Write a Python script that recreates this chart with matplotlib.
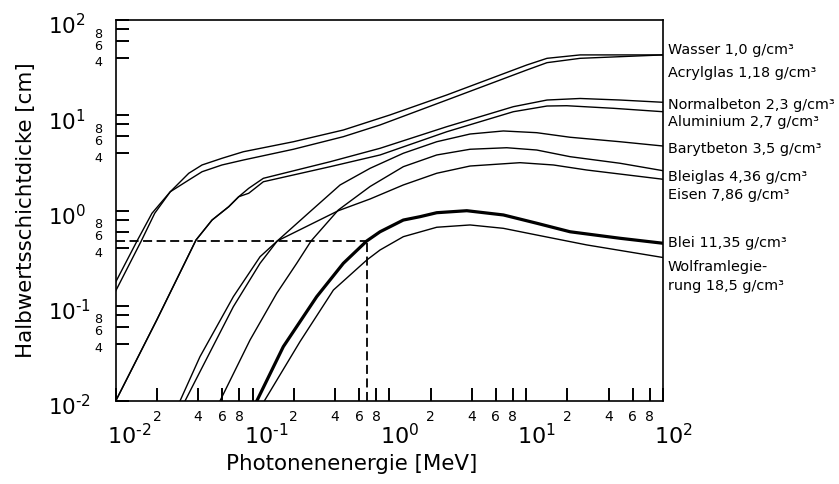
import matplotlib
matplotlib.use("Agg")
import matplotlib.pyplot as plt
import matplotlib.transforms as mtransforms
from matplotlib.ticker import FixedLocator, FixedFormatter

plt.rcParams['font.family'] = ['DejaVu Sans']
plt.rcParams['mathtext.fontset'] = 'dejavusans'

# ---------------- data (photon energy in MeV, half-value layer in cm) ----------------
wasser_E = [0.01, 0.01538, 0.01928, 0.02506, 0.0342, 0.04276, 0.0598, 0.0857, 0.199, 0.461,
            1.01, 2.63, 10.1, 14.2, 24.8, 100]
wasser_H = [0.143, 0.479, 0.935, 1.574, 2.460, 3.006, 3.532, 4.140, 5.272, 7.0,
            10.07, 16.33, 33.7, 39.6, 43.0, 43.0]

acryl_E = [0.01, 0.01432, 0.01841, 0.02506, 0.0342, 0.04276, 0.0598, 0.0857, 0.199, 0.461,
           0.855, 2.63, 10.1, 14.2, 24.8, 100]
acryl_H = [0.1774, 0.479, 0.935, 1.574, 2.089, 2.553, 3.006, 3.388, 4.395, 5.957,
           7.907, 14.45, 29.85, 35.65, 39.6, 43.0]

normalbeton_E = [0.01, 0.01995, 0.03864, 0.0506, 0.0670, 0.0793, 0.0938, 0.120, 0.369, 0.855,
                 2.63, 8.054, 14.2, 24.8, 48.5, 100]
normalbeton_H = [0.01, 0.0708, 0.490, 0.794, 1.096, 1.396, 1.710, 2.178, 3.251, 4.498,
                 7.586, 12.30, 14.45, 15.0, 14.45, 13.68]

aluminium_E = [0.01, 0.01995, 0.03864, 0.0506, 0.0670, 0.0793, 0.0938, 0.120, 0.369, 0.855,
               2.63, 8.054, 14.2, 19.8, 43.4, 100]
aluminium_H = [0.01, 0.0708, 0.490, 0.794, 1.096, 1.396, 1.517, 2.004, 2.884, 3.828,
               6.714, 10.89, 12.50, 12.59, 11.83, 10.89]

barytbeton_E = [0.0321, 0.0413, 0.0724, 0.1135, 0.1517, 0.263, 0.4365, 0.723, 1.265, 2.220,
                3.890, 6.81, 11.94, 20.94, 48.5, 100]
barytbeton_H = [0.01, 0.0203, 0.0977, 0.279, 0.479, 0.971, 1.854, 2.773, 3.990, 5.272,
                6.353, 6.839, 6.561, 5.875, 5.272, 4.753]

bleiglas_E = [0.0578, 0.0959, 0.1503, 0.2104, 0.268, 0.4236, 0.723, 1.265, 2.220, 3.890,
              7.21, 11.94, 20.94, 48.5, 100]
bleiglas_H = [0.01, 0.0437, 0.1352, 0.279, 0.479, 1.012, 1.786, 2.884, 3.828, 4.395,
              4.560, 4.315, 3.673, 3.133, 2.618]

eisen_E = [0.0295, 0.0413, 0.0724, 0.1135, 0.1517, 0.4236, 0.723, 1.265, 2.220, 3.890,
           9.02, 15.81, 27.73, 100]
eisen_H = [0.01, 0.0292, 0.1245, 0.327, 0.479, 0.995, 1.321, 1.854, 2.460, 2.931,
           3.177, 3.006, 2.661, 2.128]

blei_E = [0.1074, 0.1679, 0.2944, 0.461, 0.684, 0.855, 1.265, 1.675, 2.220, 3.68,
          6.81, 11.94, 20.94, 48.5, 100]
blei_H = [0.01, 0.0372, 0.1245, 0.279, 0.479, 0.598, 0.794, 0.861, 0.948, 0.995,
          0.898, 0.735, 0.598, 0.511, 0.453]

wolfram_E = [0.1219, 0.2223, 0.390, 0.684, 0.855, 1.265, 2.220, 3.890, 6.81, 11.94, 27.73, 100]
wolfram_H = [0.01, 0.0420, 0.1462, 0.302, 0.385, 0.531, 0.667, 0.705, 0.650, 0.553, 0.435, 0.321]

# reading example (dashed): lead at 0.68 MeV
ref_E = 0.684
ref_H = 0.479

material_labels = ["Wasser 1,0 g/cm³", "Acrylglas 1,18 g/cm³", "Normalbeton 2,3 g/cm³",
                   "Aluminium 2,7 g/cm³", "Barytbeton 3,5 g/cm³", "Bleiglas 4,36 g/cm³",
                   "Eisen 7,86 g/cm³", "Blei 11,35 g/cm³", "Wolframlegie-",
                   "rung 18,5 g/cm³"]

x_major = [1e-2, 1e-1, 1e0, 1e1, 1e2]
x_major_labels = ["$10^{‐2}$", "$10^{‐1}$", "$10^{0}$", "$10^{1}$", "$10^{2}$"]
x_minor_mult = [2, 4, 6, 8]
y_major = [1e-2, 1e-1, 1e0, 1e1, 1e2]
y_major_labels = ["$10^{‐2}$", "$10^{‐1}$", "$10^{0}$", "$10^{1}$", "$10^{2}$"]
y_minor_mult = [4, 6, 8]

# ---------------- figure ----------------
W, H = 839, 484
fig = plt.figure(figsize=(W / 100, H / 100), dpi=100)
ax_l, ax_r, ax_t, ax_b = 115.7, 663.0, 20.0, 401.0
ax = fig.add_axes([ax_l / W, 1 - ax_b / H, (ax_r - ax_l) / W, (ax_b - ax_t) / H])
ax.set_xscale('log')
ax.set_yscale('log')
ax.set_xlim(1e-2, 1e2)
ax.set_ylim(1e-2, 1e2)

thin = 1.0
series = [
    (wasser_E, wasser_H, thin), (acryl_E, acryl_H, thin),
    (normalbeton_E, normalbeton_H, thin), (aluminium_E, aluminium_H, thin),
    (barytbeton_E, barytbeton_H, thin), (bleiglas_E, bleiglas_H, thin),
    (eisen_E, eisen_H, thin), (blei_E, blei_H, 2.3), (wolfram_E, wolfram_H, thin),
]
for E, Hv, lw in series:
    ax.plot(E, Hv, color='black', lw=lw, solid_joinstyle='round')

dash = (0, (5, 2.5))
ax.plot([x_major[0], ref_E], [ref_H, ref_H], color='black', lw=1.3, ls=dash)
ax.plot([ref_E, ref_E], [y_major[0], ref_H], color='black', lw=1.3, ls=dash)

for s in ax.spines.values():
    s.set_linewidth(1.2)

# ticks
x_minor = [m * d for d in x_major[:-1] for m in x_minor_mult]
y_minor = [m * d for d in y_major[:-1] for m in y_minor_mult]
ax.xaxis.set_major_locator(FixedLocator(x_major))
ax.xaxis.set_major_formatter(FixedFormatter(x_major_labels))
ax.xaxis.set_minor_locator(FixedLocator(x_minor))
ax.xaxis.set_minor_formatter(FixedFormatter([str(m) for d in x_major[:-1] for m in x_minor_mult]))
ax.yaxis.set_major_locator(FixedLocator(y_major))
ax.yaxis.set_major_formatter(FixedFormatter(y_major_labels))
ax.yaxis.set_minor_locator(FixedLocator(y_minor))
ax.yaxis.set_minor_formatter(FixedFormatter([str(m) for d in y_major[:-1] for m in y_minor_mult]))

ax.tick_params(which='both', direction='in', length=9.2, width=1.4, top=False, right=False)
ax.tick_params(axis='x', which='major', labelsize=16, pad=16)
ax.tick_params(axis='x', which='minor', labelsize=10, pad=6.5)
ax.tick_params(axis='y', which='major', labelsize=15.5, pad=48.5)
ax.tick_params(axis='y', which='minor', labelsize=9.2, pad=9.5)

fig.canvas.draw()
def shift(dx, dy):
    return mtransforms.ScaledTranslation(dx / 100, dy / 100, fig.dpi_scale_trans)

for lab in ax.get_xticklabels():
    lab.set_horizontalalignment('left')
    lab.set_transform(lab.get_transform() + shift(-9, 0))
for lab in ax.get_yticklabels():
    lab.set_horizontalalignment('left')
    lab.set_transform(lab.get_transform() + shift(0, -4))
for lab in ax.get_yticklabels(minor=True):
    lab.set_transform(lab.get_transform() + shift(0, -3.5))

ax.set_xlabel("Photonenenergie [MeV]", fontsize=15.4)
ax.set_ylabel("Halbwertsschichtdicke [cm]", fontsize=15.4)
ax.xaxis.set_label_coords((352 - ax_l) / (ax_r - ax_l), (ax_b - 454) / (ax_b - ax_t))
ax.yaxis.set_label_coords((36 - ax_l) / (ax_r - ax_l), 0.5)

label_baselines = [54.3, 77.3, 109.3, 126.0, 153.3, 180.7, 199.3, 246.7, 270.7, 290.0]
for txt, yb in zip(material_labels, label_baselines):
    fig.text(668 / W, 1 - yb / H, txt, fontsize=10.4, ha='left', va='baseline')

fig.savefig("out.png", dpi=100)
